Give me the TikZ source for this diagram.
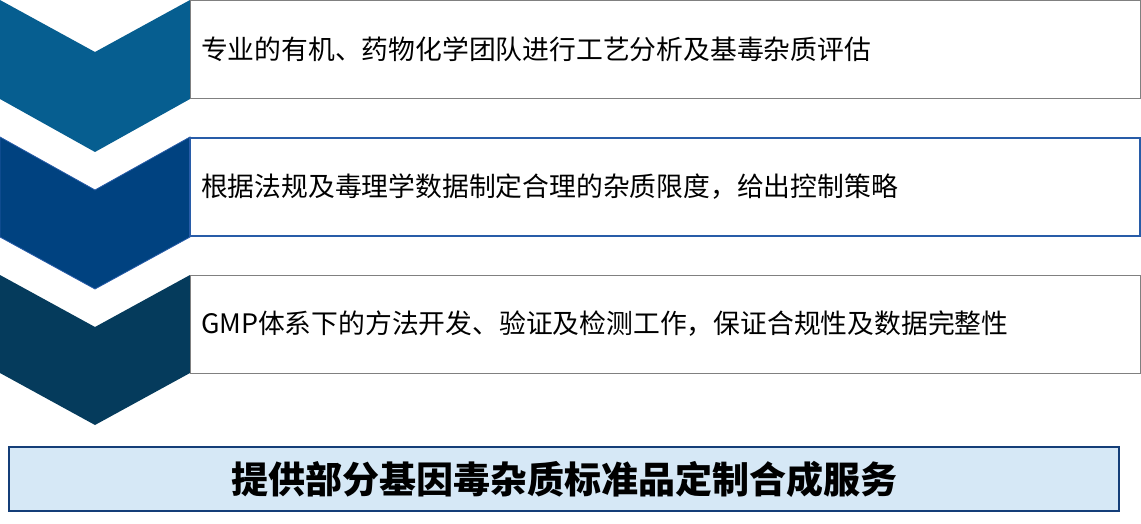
\documentclass[tikz,border=0pt]{standalone}
\usepackage{fontspec}
\setmainfont{Noto Sans CJK SC}
\usepackage{tikz}
\usetikzlibrary{positioning}
\definecolor{chevA}{RGB}{6,94,144}
\definecolor{chevB}{RGB}{0,66,128}
\definecolor{chevC}{RGB}{5,59,92}
\definecolor{edgeB}{RGB}{40,92,168}
\definecolor{svcfill}{RGB}{214,232,246}
\definecolor{svcedge}{RGB}{20,62,120}
\tikzstyle{stepbox} = [rectangle, draw=black!50, line width=1pt, fill=white, minimum width=950pt, minimum height=98pt, inner xsep=11pt, text width=928pt, align=left, font=\fontsize{26.8}{30}\selectfont]
\tikzstyle{svcbox} = [rectangle, draw=svcedge, line width=1.3pt, fill=svcfill, minimum width=1110pt, minimum height=64pt, align=center, font=\fontsize{37}{40}\selectfont\bfseries]
\begin{document}
\begin{tikzpicture}[x=1pt,y=-1pt]
    \useasboundingbox (0,0) rectangle (1141,524);
    % chevrons
    \fill[chevA] (0,0) -- (95,52) -- (190,0) -- (190,99) -- (95,152) -- (0,99) -- cycle;
    \filldraw[fill=chevB, draw=edgeB, line width=0.8pt] (0,137) -- (95,190) -- (190,137) -- (190,237) -- (95,289) -- (0,237) -- cycle;
    \fill[chevC] (0,275) -- (95,327) -- (190,275) -- (190,373) -- (95,425) -- (0,373) -- cycle;
    % boxes
    \node (Step1) [stepbox] at (665,49.5) {专业的有机、药物化学团队进行工艺分析及基毒杂质评估};
    \node (Step2) [stepbox, draw=edgeB, line width=1.3pt] at (665,187) {根据法规及毒理学数据制定合理的杂质限度，给出控制策略};
    \node (Step3) [stepbox] at (665,324) {GMP体系下的方法开发、验证及检测工作，保证合规性及数据完整性};
    \node (Service) [svcbox] at (564,479) {提供部分基因毒杂质标准品定制合成服务};
\end{tikzpicture}
\end{document}
